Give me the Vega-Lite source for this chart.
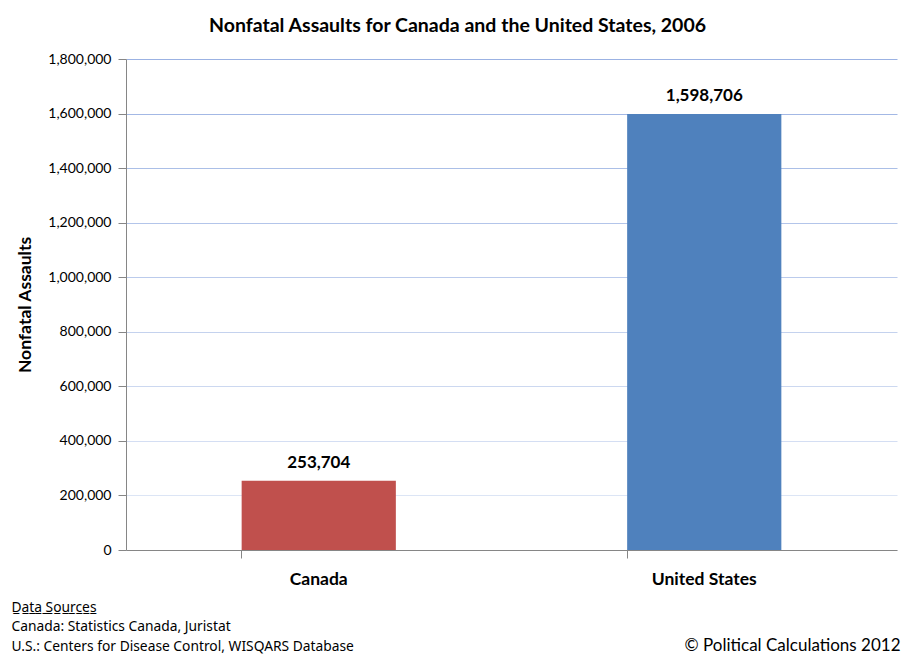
{
  "$schema": "https://vega.github.io/schema/vega-lite/v6.json",
  "autosize": {"type": "none"},
  "padding": {"left": 126, "top": 59, "right": 18, "bottom": 112},
  "width": 771,
  "height": 491,
  "background": "white",
  "config": {
    "view": {"stroke": null},
    "font": "Lato",
    "axis": {"domainColor": "#868686", "tickColor": "#868686", "labelColor": "black", "titleColor": "black"}
  },
  "title": {
    "text": "Nonfatal Assaults for Canada and the United States, 2006",
    "fontSize": 19.5,
    "fontWeight": "bold",
    "font": "Lato",
    "anchor": "middle",
    "dx": -54,
    "offset": 16
  },
  "data": {
    "values": [
      {"country": "Canada", "assaults": 253704},
      {"country": "United States", "assaults": 1598706}
    ]
  },
  "encoding": {
    "x": {
      "field": "country",
      "type": "nominal",
      "sort": null,
      "scale": {"paddingInner": 0.6, "paddingOuter": 0.3},
      "axis": {
        "bandPosition": 0,
        "tickSize": 8,
        "labelAngle": 0,
        "labelFontSize": 17.5,
        "labelFontWeight": "bold",
        "labelPadding": 12,
        "title": ["D̲a̲t̲a̲ ̲S̲o̲u̲r̲c̲e̲s̲", "Canada: Statistics Canada, Juristat", "U.S.: Centers for Disease Control, WISQARS Database"],
        "titleFont": "Noto Sans",
        "titleFontSize": 13.8,
        "titleFontWeight": "normal",
        "titleAnchor": "start",
        "titleAlign": "left",
        "titleBaseline": "top",
        "titleX": -115,
        "titleY": 50,
        "titleLineHeight": 19.8
      }
    },
    "y": {
      "field": "assaults",
      "type": "quantitative",
      "scale": {"domain": [0, 1800000], "nice": false},
      "axis": {
        "values": [0, 200000, 400000, 600000, 800000, 1000000, 1200000, 1400000, 1600000, 1800000],
        "format": ",d",
        "tickSize": 8,
        "labelPadding": 7,
        "labelFontSize": 14,
        "title": "Nonfatal Assaults",
        "titleFontSize": 17.5,
        "titleFontWeight": "bold",
        "titleX": -92,
        "gridColor": {
          "condition": [
            {"test": "datum.value >= 1800000", "value": "#9BB2E3"},
            {"test": "datum.value >= 1600000", "value": "#A3B8E5"},
            {"test": "datum.value >= 1400000", "value": "#ABBFE7"},
            {"test": "datum.value >= 1200000", "value": "#B3C5EA"},
            {"test": "datum.value >= 1000000", "value": "#BBCBEC"},
            {"test": "datum.value >= 800000", "value": "#C4D2EE"},
            {"test": "datum.value >= 600000", "value": "#CCD8F0"},
            {"test": "datum.value >= 400000", "value": "#D4DEF3"}
          ],
          "value": "#DCE5F5"
        }
      }
    }
  },
  "layer": [
    {
      "mark": {"type": "bar"},
      "encoding": {
        "color": {
          "field": "country",
          "type": "nominal",
          "scale": {"domain": ["Canada", "United States"], "range": ["#C0504D", "#4F81BD"]},
          "legend": null
        }
      }
    },
    {
      "mark": {"type": "text", "baseline": "bottom", "dy": -9, "fontSize": 17, "fontWeight": "bold", "font": "Lato"},
      "encoding": {
        "text": {"field": "assaults", "type": "quantitative", "format": ","},
        "y": {
          "field": "assaults",
          "type": "quantitative",
          "axis": {
            "orient": "right",
            "domain": false,
            "ticks": false,
            "labels": false,
            "grid": false,
            "title": "© Political Calculations 2012",
            "titleAngle": 0,
            "titleFontSize": 17,
            "titleFontWeight": "normal",
            "titleAlign": "right",
            "titleBaseline": "middle",
            "titleX": 3,
            "titleY": 586
          }
        }
      }
    }
  ],
  "resolve": {"axis": {"y": "independent"}}
}
